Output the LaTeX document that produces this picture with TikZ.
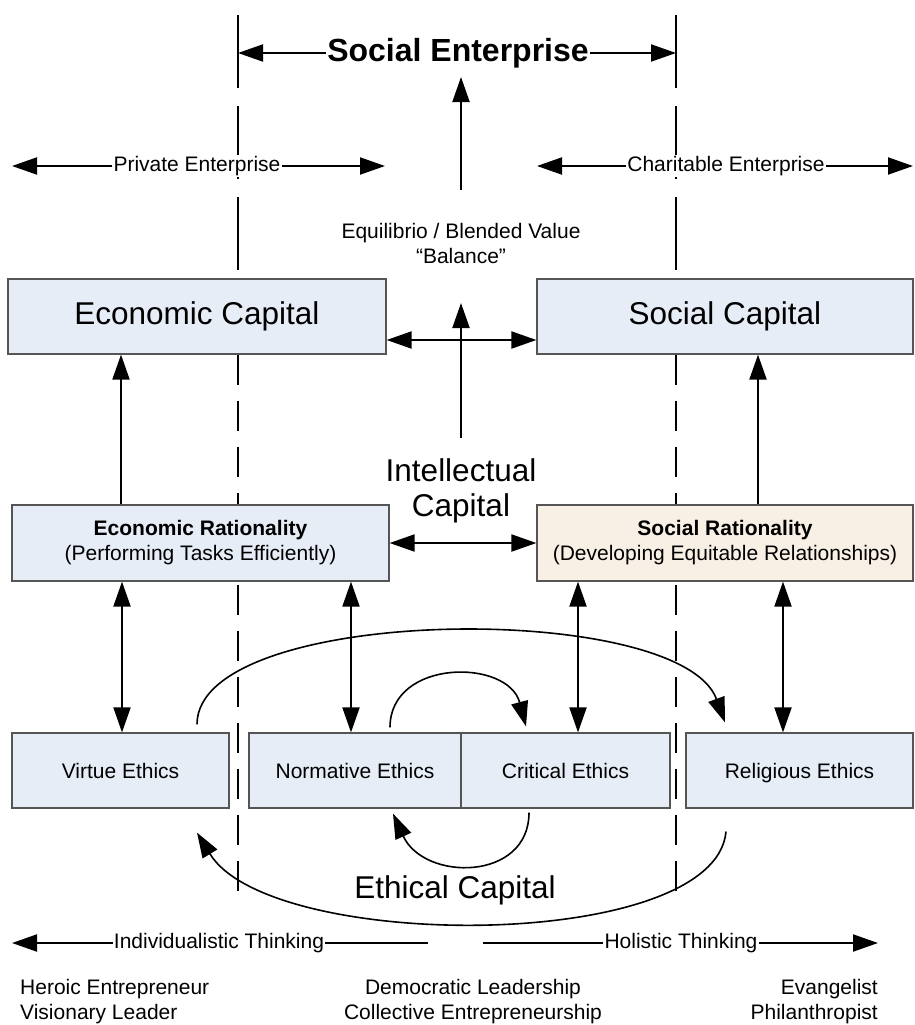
\documentclass[tikz,border=0pt]{standalone}
\usepackage{fontspec}
\setmainfont{Liberation Sans}
\usetikzlibrary{positioning,arrows.meta,calc}

\definecolor{boxblue}{RGB}{230,237,247}
\definecolor{boxsand}{RGB}{249,240,229}
\definecolor{boxline}{RGB}{85,85,85}

\newcommand{\normtxt}{\fontsize{21}{25}\selectfont}
\newcommand{\bigtxt}{\fontsize{31.5}{35}\selectfont}

\begin{document}
\begin{tikzpicture}[x=1pt,y=-1pt,font=\normtxt,
    >={Triangle[length=25pt,width=17pt]},
    conn/.style={line width=2pt},
    loop/.style={line width=1.6pt},
    divline/.style={line width=1.5pt,dash pattern=on 30pt off 16pt},
    divlong/.style={line width=1.5pt,dash pattern=on 73pt off 18pt},
    capbox/.style={draw=boxline,line width=1.2pt,fill=boxblue,minimum height=75pt,inner sep=0pt,font=\bigtxt},
    ratbox/.style={draw=boxline,line width=1.2pt,fill=boxblue,minimum height=76pt,inner sep=0pt,align=center},
    ethbox/.style={draw=boxline,line width=1.2pt,fill=boxblue,minimum height=75pt,inner sep=0pt,text height=15pt,text depth=0pt},
    lbl/.style={inner sep=1pt,fill=white}]

    \useasboundingbox[fill=white] (0,0) rectangle (915,1025);

    % boxes
    \node[capbox,minimum width=378pt] (ecap) at (197,316.5) {Economic Capital};
    \node[capbox,minimum width=376pt] (scap) at (725,316.5) {Social Capital};

    % dashed borders of the social enterprise zone
    \coordinate (dtopL) at (238,15);
    \coordinate (dbotL) at (238,897);
    \coordinate (dtopR) at (676,15);
    \coordinate (dbotR) at (676,897);
    \draw[divlong] (dtopL) -- (dtopL |- ecap.north);
    \draw[divlong] (dtopR) -- (dtopR |- scap.north);
    \draw[divline] (dtopL |- ecap.south) -- (dbotL);
    \draw[divline] (dtopR |- scap.south) -- (dbotR);

    \node[ratbox,minimum width=377pt] (erat) at (200.5,543) {\textbf{Economic Rationality}\\(Performing Tasks Efficiently)};
    \node[ratbox,minimum width=376pt,fill=boxsand] (srat) at (725,543) {\textbf{Social Rationality}\\(Developing Equitable Relationships)};
    \node[ethbox,minimum width=217pt] (virtue) at (120.5,770.5) {Virtue Ethics};
    \node[ethbox,minimum width=212pt] (normative) at (355,770.5) {Normative Ethics};
    \node[ethbox,minimum width=209pt] (critical) at (565.5,770.5) {Critical Ethics};
    \node[ethbox,minimum width=227pt] (religious) at (799.5,770.5) {Religious Ethics};

    % labels
    \node[lbl,font=\fontsize{32}{38}\selectfont\bfseries] (se) at (458,53) {Social Enterprise};
    \node[lbl] (pe) at (197,166) {Private Enterprise};
    \node[lbl] (ce) at (726,166) {Charitable Enterprise};
    \node[align=center,inner ysep=33pt] (equil) at (461,243) {Equilibrio / Blended Value\\“Balance”};
    \node[align=center,font=\bigtxt,inner ysep=20pt] (intcap) at (461,490.5) {Intellectual\\Capital};
    \node[font=\bigtxt] (ethcap) at (455,890) {Ethical Capital};
    \node[lbl] (indiv) at (219,943) {Individualistic Thinking};
    \node[lbl] (holist) at (681,943) {Holistic Thinking};
    \node[align=left,anchor=west,inner sep=0pt] (heroic) at (20,1002) {Heroic Entrepreneur\\Visionary Leader};
    \node[align=center,inner sep=0pt] (democ) at (473,1002) {Democratic Leadership\\Collective Entrepreneurship};
    \node[align=right,anchor=east,inner sep=0pt] (evang) at (878,1002) {Evangelist\\Philanthropist};

    % free ends of the scale arrows
    \coordinate (seL) at (238,53);
    \coordinate (seR) at (676,53);
    \coordinate (peL) at (12,166);
    \coordinate (peR) at (385,166);
    \coordinate (ceL) at (537,166);
    \coordinate (ceR) at (913,166);
    \coordinate (itL) at (12,943);
    \coordinate (itR) at (428,943);
    \coordinate (htL) at (483,943);
    \coordinate (htR) at (878,943);
    \coordinate (eqtip) at (461,77);
    \coordinate (ictip) at (461,303);

    \draw[conn,->] (se) -- (seL);
    \draw[conn,->] (se) -- (seR);
    \draw[conn,->] (pe) -- (peL);
    \draw[conn,->] (pe) -- (peR);
    \draw[conn,->] (ce) -- (ceL);
    \draw[conn,->] (ce) -- (ceR);
    \draw[conn,->] (indiv) -- (itL);
    \draw[conn] (indiv) -- (itR);
    \draw[conn] (holist) -- (htL);
    \draw[conn,->] (holist) -- (htR);
    \draw[conn,->] (equil) -- (eqtip);
    \draw[conn,->] (intcap) -- (ictip);

    % links between the boxes
    \draw[conn,<->] ([yshift=-23.5pt]ecap.east) -- ([yshift=-23.5pt]scap.west);
    \draw[conn,<->] (erat) -- (srat);
    \draw[conn,->] ([xshift=0.5pt]virtue.north |- erat.north) -- ([xshift=0.5pt]virtue.north |- ecap.south);
    \draw[conn,->] ([xshift=33pt]srat.north) -- ([xshift=33pt]scap.south);
    \draw[conn,<->] ([xshift=1.5pt]virtue.north) -- ([xshift=1.5pt]virtue.north |- erat.south);
    \draw[conn,<->] ([xshift=-4pt]normative.north) -- ([xshift=-4pt]normative.north |- erat.south);
    \draw[conn,<->] ([xshift=12.5pt]critical.north) -- ([xshift=12.5pt]critical.north |- srat.south);
    \draw[conn,<->] ([xshift=-16.5pt]religious.north) -- ([xshift=-16.5pt]religious.north |- srat.south);

    % ethical capital loops
    \draw[loop,->] ($(virtue.north)+(76.5,-8)$) .. controls +(0,-120) and +(-45,-123) .. ($(religious.north)+(-74.5,-10)$);
    \draw[loop,->] ($(normative.north)+(35,-5)$) .. controls +(0,-69) and +(-18,-68) .. ($(critical.north)+(-39.5,-6)$);
    \draw[loop,->] ($(critical.south)+(-36.5,4)$) .. controls +(0,69) and +(31,68) .. ($(normative.south)+(38,5)$);
    \draw[loop,->] ($(religious.south)+(-73.5,23)$) .. controls +(-11,121) and +(73,120) .. ($(virtue.south)+(76.5,24)$);
\end{tikzpicture}
\end{document}
